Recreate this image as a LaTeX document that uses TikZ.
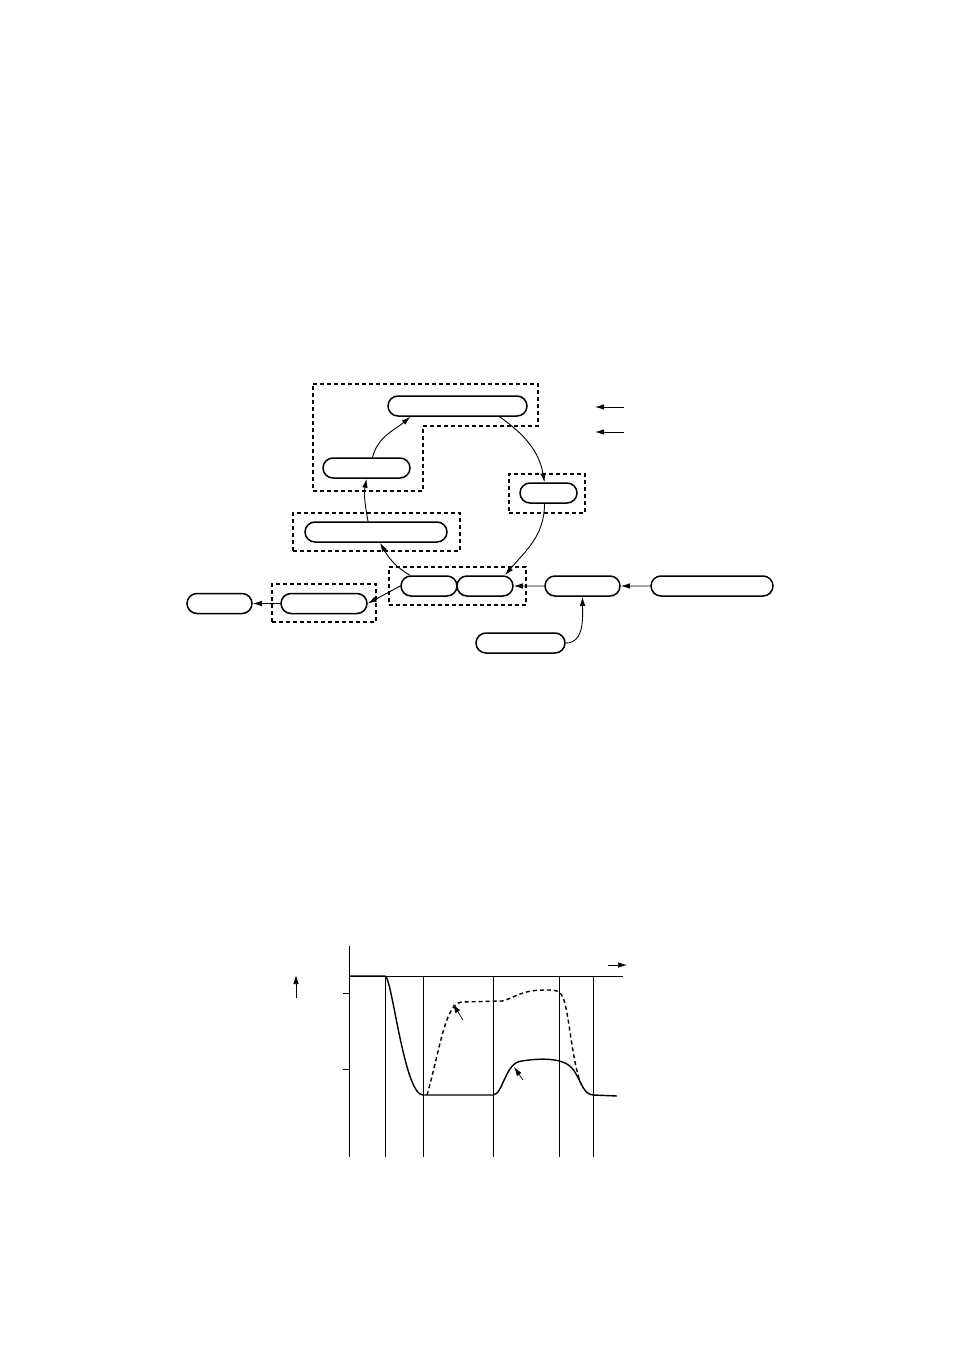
\documentclass[tikz,border=0pt]{standalone}
\usepackage{tikz}
\usetikzlibrary{arrows.meta,shapes.misc,calc}
\tikzset{
    pill/.style={draw, rounded rectangle, line width=1.5pt, minimum height=20pt, inner sep=0pt},
    group/.style={draw, dash pattern=on 4pt off 3pt, line width=1.3pt, inner sep=0pt},
    flow/.style={-{Latex[length=9pt, width=5.5pt]}, line width=0.9pt},
    axis/.style={line width=0.8pt},
    trace/.style={line width=1.4pt}
}

\begin{document}
\begin{tikzpicture}[x=1pt, y=-1pt]
                    \useasboundingbox (0,0) rectangle (954,1351);
                    % cycle of stages
                    \node[pill, minimum width=139pt] (top) at (457.5,406) {};
                    \node[pill, minimum width=87pt] (lmid) at (366.5,468) {};
                    \node[pill, minimum width=57pt] (sbox) at (548.5,493) {};
                    \node[pill, minimum width=142pt] (mid) at (376,532) {};
                    \node[pill, minimum width=56pt] (pairL) at (429,586) {};
                    \node[pill, minimum width=56pt] (pairR) at (485,586) {};
                    \node[pill, minimum width=75pt] (rbox) at (582.5,586) {};
                    \node[pill, minimum width=122pt] (far) at (712,586) {};
                    \node[pill, minimum width=86pt] (bl) at (324,603.5) {};
                    \node[pill, minimum width=65pt] (fl) at (219.5,603.5) {};
                    \node[pill, minimum width=89pt] (low) at (520.5,643) {};
                    
                    % dashed groups
                    \draw[group] (313,384) -- (538,384) -- (538,426) -- (423,426) -- (423,491) -- (313,491) -- cycle;
                    \node[group, minimum width=76pt, minimum height=39pt] (gs) at (547,493.5) {};
                    \node[group, minimum width=167pt, minimum height=38pt] (gm) at (376.5,532) {};
                    \node[group, minimum width=137pt, minimum height=38pt] (gp) at (457.5,586) {};
                    \node[group, minimum width=104pt, minimum height=38pt] (gb) at (324,603) {};
                    
                    \draw[flow] ([xshift=42pt]top.south) to[out=-35, in=100] ([xshift=-4pt]sbox.north);
                    \draw[flow] ([xshift=-4pt]sbox.south) to[out=-90, in=50] ([xshift=20pt]pairR.north);
                    \draw[flow] ([xshift=-19pt]pairL.north) to[out=150, in=-60] ([xshift=4pt]mid.south);
                    \draw[flow] ([xshift=-8pt]mid.north) to[out=100, in=-100] (lmid.south);
                    \draw[flow] ([xshift=6pt]lmid.north) to[out=75, in=-140] ([xshift=-47pt]top.south);
                    \draw[flow] (rbox) -- (pairR);
                    \draw[flow] (far) -- (rbox);
                    \draw[flow] (low.east) to[out=0, in=-90] (rbox.south);
                    \draw[flow] (pairL.west) -- (bl.east);
                    \draw[flow] (bl) -- (fl);
                    
                    \coordinate (k1) at (624,407);
                    \coordinate (k1e) at (595,407);
                    \coordinate (k2) at (624,432);
                    \coordinate (k2e) at (595,432);
                    \draw[flow] (k1) -- (k1e);
                    \draw[flow] (k2) -- (k2e);
                    
                    % timing chart
                    \draw[axis] (349,946) -- (349,1157);
                    \draw[axis] (349,976) -- (623,976);
                    \foreach \t in {385,423,493,559,593}
                        \draw[axis] (\t,976) -- (\t,1157);
                    \foreach \v in {993,1069}
                        \draw[axis] (343,\v) -- (349,\v);
                    \coordinate (ta) at (608,965);
                    \coordinate (tb) at (627,965);
                    \draw[flow, line width=0.7pt] (ta) -- (tb);
                    \coordinate (va) at (296,998);
                    \coordinate (vb) at (296,975);
                    \draw[flow, line width=0.7pt] (va) -- (vb);
                    
                    \draw[trace] (349,976) -- (385,976) .. controls (392,976) and (404,1095) .. (423,1095)
                        -- (493,1095) .. controls (503,1095) and (505,1062) .. (522,1061)
                        .. controls (540,1058) and (560,1058) .. (570,1066)
                        .. controls (580,1075) and (582,1095) .. (593,1095) -- (617,1096);
                    \draw[trace, dash pattern=on 4pt off 3pt] (427,1095) .. controls (440,1050) and (445,1003) .. (462,1002)
                        -- (502,1001) .. controls (515,998) and (520,990) .. (545,990)
                        .. controls (557,990) and (560,990) .. (564,1000)
                        .. controls (570,1020) and (573,1070) .. (583,1088);
                    \coordinate (pa) at (463,1020);
                    \coordinate (pb) at (453,1004);
                    \draw[flow, line width=0.7pt] (pa) -- (pb);
                    \coordinate (qa) at (523,1080);
                    \coordinate (qb) at (514,1067);
                    \draw[flow, line width=0.7pt] (qa) -- (qb);
                \end{tikzpicture}
\end{document}
